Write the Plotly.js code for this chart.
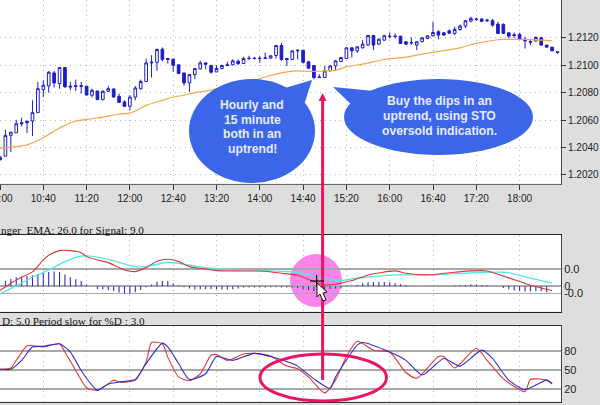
<!DOCTYPE html>
<html><head><meta charset="utf-8">
<script src="https://cdn.plot.ly/plotly-3.0.1.min.js"></script>
<style>html,body{margin:0;padding:0;background:#dedede;overflow:hidden}#c{width:600px;height:405px}</style>
</head><body><div id="c"></div>
<script>
// Candles: 5-minute bars, starting 10:00
const open = [1.20329,1.20336,1.20488,1.20507,1.20581,1.20590,1.20593,1.20654,1.20822,1.20849,1.20944,1.20866,1.20983,1.20847,1.20851,1.20851,1.20847,1.20781,1.20812,1.20749,1.20810,1.20827,1.20773,1.20732,1.20700,1.20768,1.20829,1.20881,1.21017,1.21022,1.21117,1.21049,1.21044,1.21003,1.20944,1.20871,1.20932,1.20973,1.21017,1.20998,1.20951,1.20976,1.20998,1.21003,1.21029,1.21012,1.21051,1.21051,1.21051,1.21051,1.21051,1.21071,1.21144,1.21049,1.21042,1.21105,1.21110,1.21025,1.20998,1.20915,1.20910,1.20959,1.20995,1.21027,1.21049,1.21127,1.21105,1.21127,1.21147,1.21217,1.21154,1.21183,1.21212,1.21212,1.21212,1.21171,1.21166,1.21147,1.21173,1.21195,1.21215,1.21244,1.21237,1.21251,1.21232,1.21261,1.21286,1.21322,1.21337,1.21337,1.21330,1.21325,1.21300,1.21298,1.21237,1.21222,1.21225,1.21190,1.21173,1.21178,1.21200,1.21147,1.21132,1.21098];
const high = [1.20341,1.20529,1.20512,1.20602,1.20617,1.20598,1.20744,1.20878,1.20890,1.20956,1.20959,1.20983,1.20983,1.20878,1.20895,1.20878,1.20847,1.20829,1.20812,1.20817,1.20847,1.20829,1.20793,1.20744,1.20781,1.20847,1.20895,1.21049,1.21073,1.21122,1.21130,1.21049,1.21049,1.21003,1.20944,1.20932,1.20976,1.21032,1.21020,1.21003,1.21000,1.21005,1.21025,1.21044,1.21042,1.21061,1.21069,1.21061,1.21066,1.21093,1.21069,1.21147,1.21164,1.21049,1.21105,1.21110,1.21110,1.21029,1.20998,1.20934,1.20995,1.21000,1.21037,1.21061,1.21130,1.21127,1.21139,1.21183,1.21222,1.21220,1.21195,1.21222,1.21239,1.21232,1.21215,1.21176,1.21203,1.21173,1.21203,1.21217,1.21317,1.21256,1.21239,1.21261,1.21281,1.21298,1.21330,1.21354,1.21347,1.21342,1.21339,1.21337,1.21317,1.21305,1.21239,1.21239,1.21237,1.21208,1.21188,1.21212,1.21208,1.21147,1.21134,1.21103];
const low = [1.20305,1.20336,1.20366,1.20507,1.20554,1.20505,1.20483,1.20654,1.20768,1.20800,1.20837,1.20829,1.20837,1.20817,1.20812,1.20793,1.20781,1.20764,1.20749,1.20744,1.20805,1.20764,1.20724,1.20695,1.20671,1.20744,1.20822,1.20881,1.20910,1.20959,1.21029,1.21012,1.20951,1.20939,1.20851,1.20805,1.20898,1.20968,1.20971,1.20939,1.20951,1.20971,1.20993,1.20998,1.21000,1.21012,1.21037,1.21042,1.21017,1.21044,1.21051,1.21049,1.21032,1.20995,1.21042,1.21042,1.21012,1.20976,1.20898,1.20910,1.20910,1.20956,1.20964,1.21022,1.21044,1.21056,1.21090,1.21122,1.21144,1.21110,1.21149,1.21178,1.21195,1.21195,1.21156,1.21147,1.21147,1.21110,1.21166,1.21190,1.21208,1.21188,1.21215,1.21227,1.21220,1.21251,1.21271,1.21312,1.21325,1.21317,1.21317,1.21281,1.21227,1.21232,1.21195,1.21200,1.21183,1.21122,1.21147,1.21171,1.21142,1.21130,1.21103,1.21083];
const close = [1.20310,1.20488,1.20512,1.20573,1.20573,1.20581,1.20654,1.20829,1.20854,1.20949,1.20871,1.20983,1.20842,1.20842,1.20847,1.20847,1.20783,1.20817,1.20749,1.20810,1.20829,1.20768,1.20729,1.20700,1.20768,1.20834,1.20881,1.21017,1.21022,1.21115,1.21042,1.21042,1.21000,1.20939,1.20871,1.20932,1.20976,1.21017,1.21008,1.20949,1.20976,1.20998,1.21003,1.21032,1.21012,1.21049,1.21049,1.21049,1.21049,1.21054,1.21069,1.21144,1.21042,1.21042,1.21105,1.21110,1.21022,1.20978,1.20910,1.20910,1.20959,1.20995,1.21032,1.21056,1.21127,1.21105,1.21134,1.21154,1.21217,1.21147,1.21190,1.21215,1.21210,1.21210,1.21159,1.21154,1.21164,1.21171,1.21200,1.21215,1.21239,1.21220,1.21220,1.21234,1.21261,1.21286,1.21325,1.21342,1.21334,1.21320,1.21325,1.21293,1.21232,1.21232,1.21212,1.21217,1.21190,1.21178,1.21168,1.21203,1.21147,1.21132,1.21105,1.21095];
const barIndex = open.map((_, i) => i);

// Orange moving average
const emaX = [0,2,4,5,7,9,10,12,14,16,18,20,22,24,25,27,30,32,34,36,38,40,44,48,50,53,55,56,59,60,62,64,67,71,75,79,85,88,92,93,97,102];
const emaY = [1.20395,1.20402,1.20412,1.20419,1.20451,1.20495,1.20520,1.20561,1.20593,1.20605,1.20615,1.20629,1.20644,1.20651,1.20666,1.20707,1.20744,1.20768,1.20781,1.20800,1.20812,1.20827,1.20854,1.20903,1.20925,1.20951,1.20959,1.20956,1.20956,1.20959,1.20964,1.20988,1.21008,1.21042,1.21059,1.21088,1.21127,1.21159,1.21186,1.21188,1.21188,1.21178];

// MACD panel (units of 1e-5)
const macdX = [0,2,4,6,8,9,11,13,15,16,18,20,23,25,27,29,31,33,35,37,40,44,49,52,55,58,60,63,65,68,73,75,79,84,87,90,92,96,98,102];
const macdY = [-13,9,27,43,79,93,107,107,101,89,79,71,49,44,56,75,81,74,59,54,47,46,45,39,33,14,4,9,17,34,46,39,34,42,46,46,36,14,3,-13];
const signalX = [0,3,6,9,12,14,16,20,25,27,31,34,38,42,49,55,58,60,63,66,73,79,86,90,94,98,102];
const signalY = [-23,1,27,49,74,87,91,81,59,59,72,66,56,51,47,42,31,22,17,24,34,34,39,42,41,24,9];
const histY = [0,16,22,27,29,31,32,37,41,43,44,43,35,27,21,16,5,0,-8,-9,-11,-15,-19,-21,-22,-18,-11,-3,5,14,16,16,8,2,-3,-7,-10,-9,-9,-8,-9,-10,-10,-9,-7,-4,-4,-4,-4,-4,-3,-3,-4,-4,-4,-5,-9,-11,-14,-14,-11,-8,-7,-6,-1,0,4,9,12,13,13,13,12,9,6,4,1,0,0,-1,1,1,1,1,2,3,4,5,5,4,2,1,0,-5,-9,-13,-14,-16,-16,-15,-15,-18,0,0];

// Stochastic panel
const kX = [0,2,3,5,6,8,9,11,12,14,16,18,20,21,22,25,27,28,30,31,33,35,37,39,40,42,45,47,50,53,55,57,60,62,64,66,69,72,75,77,81,82,84,88,90,93,97,98,101,102];
const kY = [51,53,65,88,88,86,88,91,78,49,22,18,28,34,31,34,63,93,91,70,39,33,44,73,74,65,75,76,72,56,52,39,14,34,71,95,81,78,46,37,71,71,53,84,65,36,16,35,34,28];
const dX = [0,2,4,6,8,11,13,15,17,18,20,22,25,27,30,31,33,35,38,40,43,47,50,54,55,58,61,62,66,67,72,75,78,82,85,89,91,94,97,101,102];
const dY = [51,51,65,86,87,91,78,49,26,18,28,31,35,60,92,86,60,35,44,71,65,76,71,60,56,36,21,39,89,93,78,65,42,68,56,81,68,34,19,34,29];

// Axis labels
const timeTicks = [0,8,16,24,32,40,48,56,64,72,80,88,96];
const timeLabels = ["10:00","10:40","11:20","12:00","12:40","13:20","14:00","14:40","15:20","16:00","16:40","17:20","18:00"];
const priceTicks = [1.2020,1.2040,1.2060,1.2080,1.2100,1.2120];
const priceLabels = ["1.2020","1.2040","1.2060","1.2080","1.2100","1.2120"];
const macdTicks = [52,0,-22];
const macdLabels = ["0.0","0","-0.0"];
const stoTicks = [80,50,20];
const stoLabels = ["80","50","20"];

// Texts
const macdCaption = 'nger  EMA: 26.0 for Signal: 9.0';
const stoCaption = 'D: 5.0 Period slow for %D : 3.0';
const leftCallout = ['Hourly and','15 minute','both in an','uptrend!'];
const rightCallout = ['Buy the dips in an','uptrend, using STO','oversold indication.'];

const W = 600, H = 405, bubble = '#3b66e8', pink = '#ea1464';
const px = x => x / W, py = y => 1 - y / H;
const path = pts => 'M' + pts.map(p => px(p[0]).toFixed(5) + ',' + py(p[1]).toFixed(5)).join('L') + 'Z';
const oval = (x0, y0, x1, y1, o) => Object.assign({type:'circle', xref:'paper', yref:'paper', x0:px(x0), x1:px(x1), y0:py(y0), y1:py(y1), line:{width:0}}, o);
const poly = (pts, o) => Object.assign({type:'path', xref:'paper', yref:'paper', path:path(pts), line:{width:0}}, o);
const seg = (x0, y0, x1, y1, color, width) => ({type:'line', xref:'paper', yref:'paper', x0:px(x0), x1:px(x1), y0:py(y0), y1:py(y1), line:{color, width}});
const smooth = (color, width) => ({color, width, shape:'spline', smoothing:0.6});

const traces = [
  {type:'candlestick', x:barIndex, open, high, low, close, xaxis:'x', yaxis:'y', whiskerwidth:0,
   increasing:{line:{color:'#1c1cc8', width:1}, fillcolor:'#ffffff'},
   decreasing:{line:{color:'#1c1cc8', width:1}, fillcolor:'#1c1cc8'}, hoverinfo:'skip'},
  {type:'scatter', mode:'lines', x:emaX, y:emaY, xaxis:'x', yaxis:'y', line:smooth('#f3a650',1.2)},
  {type:'bar', x:barIndex, y:histY, xaxis:'x2', yaxis:'y2', width:0.2, marker:{color:'#2a2ac4', line:{width:0}}},
  {type:'scatter', mode:'lines', x:signalX, y:signalY, xaxis:'x2', yaxis:'y2', line:smooth('#55e6e6',1.3)},
  {type:'scatter', mode:'lines', x:macdX, y:macdY, xaxis:'x2', yaxis:'y2', line:smooth('#d8383c',1.1)},
  {type:'scatter', mode:'lines', x:kX, y:kY, xaxis:'x3', yaxis:'y3', line:smooth('#e0363c',1.1)},
  {type:'scatter', mode:'lines', x:dX, y:dY, xaxis:'x3', yaxis:'y3', line:smooth('#2c2cc8',1.1)}
];

const font = {family:'"Liberation Sans", Arial, sans-serif', size:10, color:'#222'};
const xCommon = {range:[0,103.65], tickmode:'array', tickvals:timeTicks, ticktext:timeLabels, showgrid:true,
  gridcolor:'#b4b4b4', griddash:'1px,4px', gridwidth:1, zeroline:false, fixedrange:true,
  rangeslider:{visible:false}};
const yCommon = {side:'right', tickmode:'array', zeroline:false, fixedrange:true, showline:true, linecolor:'#444', linewidth:1};

const layout = {
  width:W, height:H, margin:{l:0,r:0,t:0,b:0}, paper_bgcolor:'#dedede', plot_bgcolor:'#ffffff',
  showlegend:false, font, barmode:'overlay',
  xaxis: Object.assign({}, xCommon, {anchor:'y', domain:[0,561/W], ticks:'outside', ticklen:5, tickcolor:'#333', showline:true, linecolor:'#666', linewidth:1.5, tickfont:font, ticklabeloverflow:'allow'}),
  yaxis: Object.assign({}, yCommon, {anchor:'x', domain:[1-183.5/H,1], range:[1.20137,1.21476], tickvals:priceTicks, ticktext:priceLabels,
    ticks:'outside', ticklen:4, tickcolor:'#333', showgrid:true, gridcolor:'#b4b4b4', griddash:'1px,4px', tickfont:font}),
  xaxis2: Object.assign({}, xCommon, {anchor:'y2', domain:[0,561/W], showticklabels:false, ticks:'', showline:true, mirror:true, linecolor:'#222', linewidth:1}),
  yaxis2: Object.assign({}, yCommon, {anchor:'x2', domain:[1-311.5/H,1-235/H], range:[-76,154], tickvals:macdTicks, ticktext:macdLabels, ticks:'',
    showgrid:true, gridcolor:'#a8a8a8', gridwidth:1.5, griddash:'solid', tickfont:{family:font.family,size:11,color:'#222'}}),
  xaxis3: Object.assign({}, xCommon, {anchor:'y3', domain:[0,561/W], showticklabels:false, ticks:'', showline:true, mirror:true, linecolor:'#333', linewidth:1}),
  yaxis3: Object.assign({}, yCommon, {anchor:'x3', domain:[1-401.5/H,1-326/H], range:[0.5,118.9], tickvals:stoTicks, ticktext:stoLabels, ticks:'',
    showgrid:true, gridcolor:'#a8a8a8', gridwidth:1.5, griddash:'solid', tickfont:{family:font.family,size:11,color:'#222'}}),
  shapes: [
    oval(290,254,342,307,{fillcolor:'#fb84ea', layer:'below'}),
    oval(189,79,315,183,{fillcolor:bubble}),
    poly([[285,88],[312,80],[304,105],[270,112]],{fillcolor:bubble}),
    oval(344,79,533,155,{fillcolor:bubble}),
    poly([[333,87],[374,91],[354,107]],{fillcolor:bubble}),
    oval(260,354,386.5,401,{line:{color:pink,width:3}, fillcolor:'rgba(0,0,0,0)'}),
    seg(322.6,100,322.6,380,pink,3),
    poly([[322.6,93],[318.6,101],[326.6,101]],{fillcolor:pink}),
    seg(310,281,324,281,'#111',1.2),
    seg(316.6,275,316.6,287,'#111',1.2),
    poly([[317,283],[317,297],[320,294],[323,301],[326,300],[323,293],[327,292]],{fillcolor:'#ffffff', line:{color:'#111',width:1}})
  ],
  annotations: [
    {xref:'paper', yref:'paper', x:px(-1.5), y:py(230.5), xanchor:'left', yanchor:'middle', showarrow:false, text:macdCaption, font:{family:'"Liberation Serif", serif', size:11.2, color:'#111'}},
    {xref:'paper', yref:'paper', x:px(0), y:py(321), xanchor:'left', yanchor:'middle', showarrow:false, text:stoCaption, font:{family:'"Liberation Serif", serif', size:11.2, color:'#111'}}
  ].concat(
    leftCallout.map((t, i) => ({xref:'paper', yref:'paper', x:px(252), y:py(105 + i*14.7), xanchor:'center', yanchor:'middle', showarrow:false, text:t, font:{family:font.family, size:12.2, color:'#e6ecff', weight:700}})),
    rightCallout.map((t, i) => ({xref:'paper', yref:'paper', x:px(439), y:py(101 + i*15), xanchor:'center', yanchor:'middle', showarrow:false, text:t, font:{family:font.family, size:12.2, color:'#e6ecff', weight:700}}))
  )
};

Plotly.newPlot('c', traces, layout, {staticPlot:true, displayModeBar:false});
</script></body></html>
